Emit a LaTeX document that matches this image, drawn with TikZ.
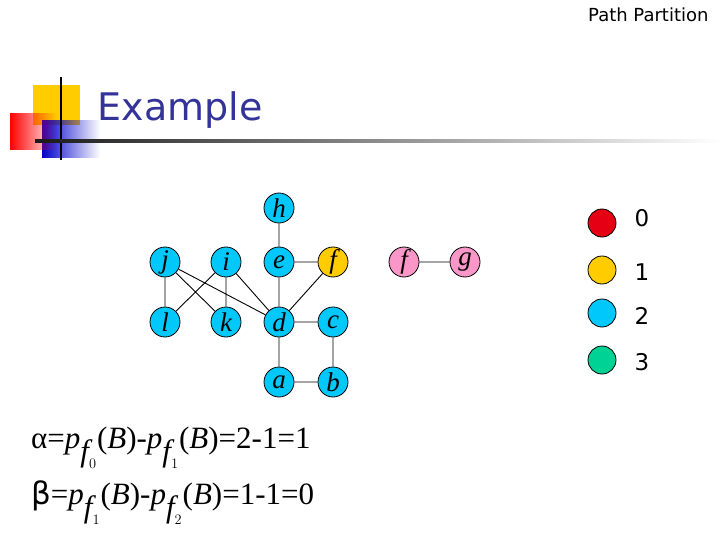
\documentclass[tikz,border=0pt]{standalone}
\usepackage{fontspec}
\setmainfont{Liberation Serif}
\newfontfamily\sans{DejaVu Sans}
\usetikzlibrary{fadings}
\definecolor{nblue}{RGB}{0,200,250}
\definecolor{nyel}{RGB}{255,204,0}
\definecolor{npink}{RGB}{250,150,200}
\definecolor{nred}{RGB}{230,0,20}
\definecolor{ngreen}{RGB}{0,210,150}
\definecolor{tblue}{RGB}{51,51,153}
\tikzset{v/.style={circle,draw,line width=0.8pt,minimum size=30pt,inner sep=0pt,font=\fontsize{27}{27}\selectfont\itshape,fill=nblue},
lg/.style={circle,draw,line width=0.8pt,minimum size=28pt,inner sep=0pt},
lt/.style={font=\sans\fontsize{23}{23}\selectfont},
e/.style={line width=0.9pt}}
\begin{document}
\begin{tikzpicture}[x=1pt,y=-1pt]
\useasboundingbox (0,0) rectangle (720,540);
\node[anchor=north east,font=\sans\fontsize{18}{18}\selectfont] (ttl) at (712,4) {Path Partition};
% logo
\fill[nyel] (33,85) rectangle (80,125);
\fill[blue!80!black,path fading=east] (42,120) rectangle (100,158);
\fill[red,path fading=east] (10,113) rectangle (57,150);
\draw[line width=1.6pt] (61,77) -- (61,160);
\shade[left color=black!90,right color=white] (35,140) rectangle (720,142.5);
\node[anchor=west,text=tblue,font=\sans\fontsize{38}{38}\selectfont] (ex) at (94,110) {Example};
% graph
\node[v] (h) at (279,208) {h};
\node[v] (j) at (165,262) {j};
\node[v] (i) at (226,262) {i};
\node[v] (e1) at (279,262) {e};
\node[v,fill=nyel] (f) at (333,262) {f};
\node[v,fill=npink] (f2) at (404,262) {f};
\node[v,fill=npink] (g) at (465,262) {g};
\node[v] (l) at (165,322) {l};
\node[v] (k) at (226,322) {k};
\node[v] (d) at (279,322) {d};
\node[v] (c) at (333,322) {c};
\node[v] (a) at (279,382) {a};
\node[v] (b) at (333,382) {b};
\draw[e] (h)--(e1) (e1)--(f) (e1)--(d) (f)--(d) (j)--(l) (j)--(k) (j)--(d) (i)--(l) (i)--(k) (i)--(d) (d)--(c) (c)--(b) (d)--(a) (a)--(b) (f2)--(g);
% legend
\node[lg,fill=nred] (c0) at (602,223) {};
\node[lg,fill=nyel] (c1) at (602,270) {};
\node[lg,fill=nblue] (c2) at (602,313) {};
\node[lg,fill=ngreen] (c3) at (602,360) {};
\node[lt] (t0) at (642,218) {0};
\node[lt] (t1) at (642,272) {1};
\node[lt] (t2) at (642,316) {2};
\node[lt] (t3) at (642,362) {3};
% formulas
\node[anchor=base west,inner sep=0pt,font=\fontsize{31}{31}\selectfont] (fa) at (31,448) {α=\textit{p}$_{\textit{f}_0}$(\textit{B})-\textit{p}$_{\textit{f}_1}$(\textit{B})=2-1=1};
\node[anchor=base west,inner sep=0pt,font=\fontsize{31}{31}\selectfont] (fb) at (31,504) {{\sans β}=\textit{p}$_{\textit{f}_1}$(\textit{B})-\textit{p}$_{\textit{f}_2}$(\textit{B})=1-1=0};
\end{tikzpicture}
\end{document}
